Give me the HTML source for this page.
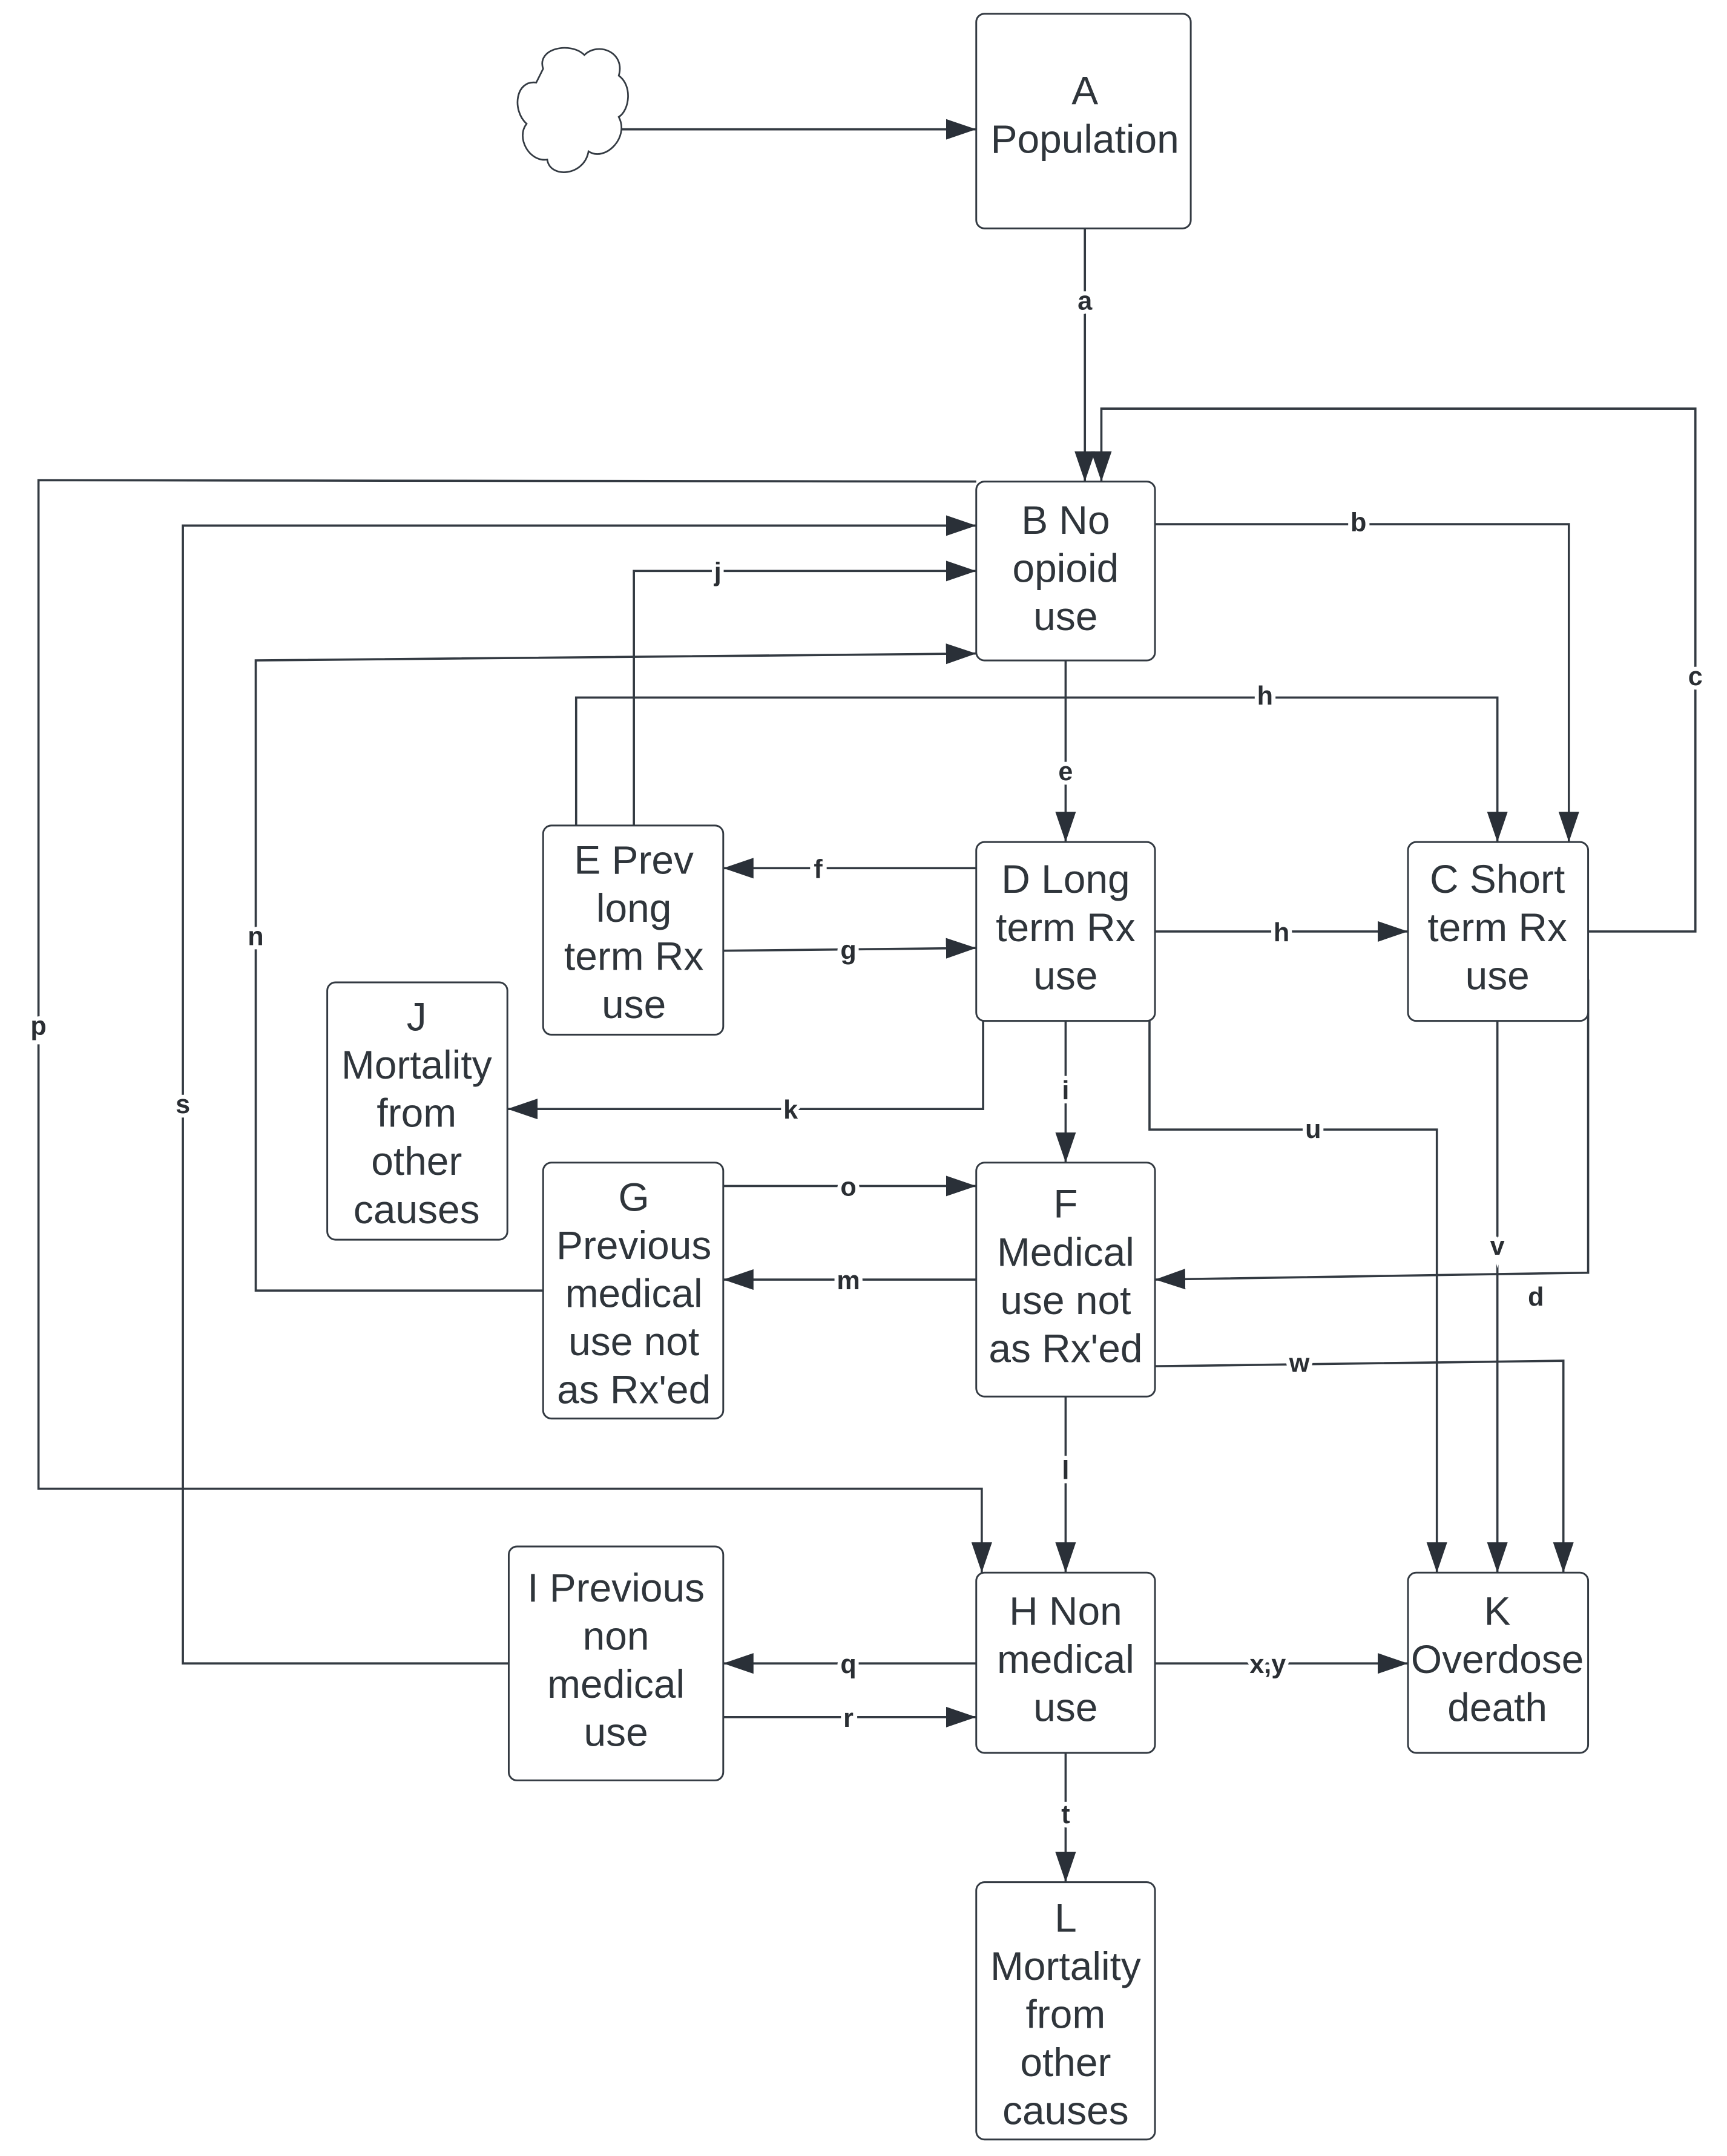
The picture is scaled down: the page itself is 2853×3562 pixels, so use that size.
<!DOCTYPE html>
<html><head><meta charset="utf-8"><style>
html,body{margin:0;padding:0;background:#fff}
svg{display:block}
.box{fill:#fff;stroke:#333a42;stroke-width:1.3}
.ln{fill:none;stroke:#333a42;stroke-width:1.6}
.t{font-family:"Liberation Sans",sans-serif;font-size:29px;fill:#2f353b;text-anchor:middle}
.l{font-family:"Liberation Sans",sans-serif;font-size:19px;font-weight:bold;fill:#2a2e33;text-anchor:middle;paint-order:stroke;stroke:#fff;stroke-width:6px}
</style></head><body>
<svg width="2853" height="3562" viewBox="0 0 1256 1567" preserveAspectRatio="none" xmlns="http://www.w3.org/2000/svg">
<defs><marker id="ar" viewBox="0 0 22 15" refX="22" refY="7.5" markerWidth="22" markerHeight="15" markerUnits="userSpaceOnUse" orient="auto"><path d="M0,0 L22,7.5 L0,15 z" fill="#2a3038"/></marker></defs>
<path class="ln" style="stroke-width:1.2" d="M395,50 C390,35 415,30 425,40 C435,30 455,38 450,55 C460,62 458,80 450,85 C458,100 440,118 428,110 C425,128 400,130 398,116 C385,118 375,100 383,90 C372,80 375,58 390,60 Z"/>
<g class="ln" marker-end="url(#ar)">
<path d="M452,94 H710"/>
<path d="M789,166 V350"/>
<path d="M1155,677 H1233 V297 H801 V350"/>
<path d="M710,350 L28,349 V1082 H714 V1143"/>
<path d="M370,1209 H133 V382 H710"/>
<path d="M461,600 V415 H710"/>
<path d="M395,938 H186 V480 L710,475"/>
<path d="M419,600 V507 H1089 V612"/>
<path d="M840,381 H1141 V612"/>
<path d="M775,480 V612"/>
<path d="M710,631 H526"/>
<path d="M526,691 L710,689"/>
<path d="M840,677 H1024"/>
<path d="M715,742 V806 H369"/>
<path d="M775,742 V845"/>
<path d="M836,742 V821 H1045 V1143"/>
<path d="M1089,742 V1143"/>
<path d="M1155,712 V925 L840,930"/>
<path d="M526,862 H710"/>
<path d="M710,930 H526"/>
<path d="M840,993 L1137,989 V1143"/>
<path d="M775,1015 V1143"/>
<path d="M710,1209 H526"/>
<path d="M526,1248 H710"/>
<path d="M840,1209 H1024"/>
<path d="M775,1274 V1368"/>
</g>
<rect class="box" x="710" y="10" width="156" height="156" rx="6"/>
<rect class="box" x="710" y="350" width="130" height="130" rx="6"/>
<rect class="box" x="395" y="600" width="131" height="152" rx="6"/>
<rect class="box" x="710" y="612" width="130" height="130" rx="6"/>
<rect class="box" x="1024" y="612" width="131" height="130" rx="6"/>
<rect class="box" x="238" y="714" width="131" height="187" rx="6"/>
<rect class="box" x="395" y="845" width="131" height="186" rx="6"/>
<rect class="box" x="710" y="845" width="130" height="170" rx="6"/>
<rect class="box" x="370" y="1124" width="156" height="170" rx="6"/>
<rect class="box" x="710" y="1143" width="130" height="131" rx="6"/>
<rect class="box" x="1024" y="1143" width="131" height="131" rx="6"/>
<rect class="box" x="710" y="1368" width="130" height="187" rx="6"/>
<g class="t">
<text x="789" y="76">A</text><text x="789" y="111">Population</text>
<text x="775" y="388">B  No</text><text x="775" y="423">opioid</text><text x="775" y="458">use</text>
<text x="461" y="635">E Prev</text><text x="461" y="670">long</text><text x="461" y="705">term Rx</text><text x="461" y="740">use</text>
<text x="775" y="649">D Long</text><text x="775" y="684">term Rx</text><text x="775" y="719">use</text>
<text x="1089" y="649">C Short</text><text x="1089" y="684">term Rx</text><text x="1089" y="719">use</text>
<text x="303" y="749">J</text><text x="303" y="784">Mortality</text><text x="303" y="819">from</text><text x="303" y="854">other</text><text x="303" y="889">causes</text>
<text x="461" y="880">G</text><text x="461" y="915">Previous</text><text x="461" y="950">medical</text><text x="461" y="985">use not</text><text x="461" y="1020">as Rx'ed</text>
<text x="775" y="885">F</text><text x="775" y="920">Medical</text><text x="775" y="955">use not</text><text x="775" y="990">as Rx'ed</text>
<text x="448" y="1164">I Previous</text><text x="448" y="1199">non</text><text x="448" y="1234">medical</text><text x="448" y="1269">use</text>
<text x="775" y="1181">H Non</text><text x="775" y="1216">medical</text><text x="775" y="1251">use</text>
<text x="1089" y="1181">K</text><text x="1089" y="1216">Overdose</text><text x="1089" y="1251">death</text>
<text x="775" y="1404">L</text><text x="775" y="1439">Mortality</text><text x="775" y="1474">from</text><text x="775" y="1509">other</text><text x="775" y="1544">causes</text>
</g>
<g class="l">
<text x="789" y="225">a</text>
<text x="988" y="386">b</text>
<text x="1233" y="498">c</text>
<text x="522" y="422">j</text>
<text x="920" y="512">h</text>
<text x="775" y="567">e</text>
<text x="186" y="687">n</text>
<text x="28" y="752">p</text>
<text x="133" y="809">s</text>
<text x="595" y="638">f</text>
<text x="617" y="697">g</text>
<text x="932" y="684">h</text>
<text x="575" y="813">k</text>
<text x="775" y="799">i</text>
<text x="955" y="827">u</text>
<text x="1089" y="912">v</text>
<text x="1117" y="949">d</text>
<text x="617" y="869">o</text>
<text x="617" y="937">m</text>
<text x="945" y="997">w</text>
<text x="775" y="1075">l</text>
<text x="617" y="1216">q</text>
<text x="617" y="1255">r</text>
<text x="922" y="1216">x,y</text>
<text x="775" y="1325">t</text>
</g>
</svg>
</body></html>
